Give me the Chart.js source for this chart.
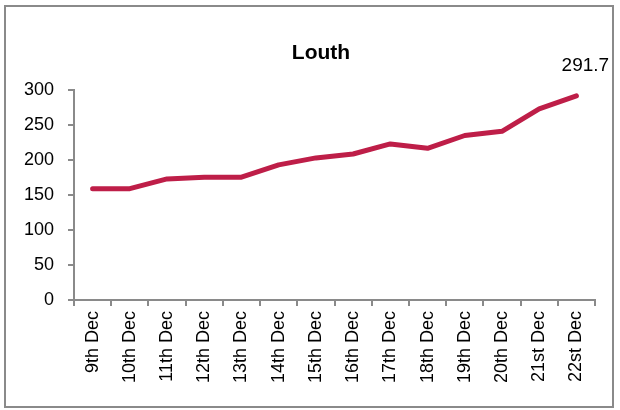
<!DOCTYPE html>
<html>
<head>
<meta charset="utf-8">
<script src="https://cdn.jsdelivr.net/npm/chart.js@4"></script>
<style>
html,body{margin:0;padding:0;background:#fff;}
#wrap{width:620px;height:410px;position:relative;}
</style>
</head>
<body>
<div id="wrap"><canvas id="c" width="620" height="410"></canvas></div>
<script>
const categories = ["9th Dec","10th Dec","11th Dec","12th Dec","13th Dec","14th Dec","15th Dec","16th Dec","17th Dec","18th Dec","19th Dec","20th Dec","21st Dec","22st Dec"];
const louthValues = [159, 159, 173, 175.5, 175.5, 193, 203, 208.6, 223, 216.7, 235, 241, 273, 291.7];
const yTicks = [0, 50, 100, 150, 200, 250, 300];
const chartTitle = "Louth";
const lastLabel = "291.7";

const FONT = "'Liberation Sans', Arial, sans-serif";

const frame = {
  id: 'frame',
  beforeDraw(chart) {
    const ctx = chart.ctx;
    ctx.save();
    ctx.fillStyle = '#fff';
    ctx.fillRect(0, 0, chart.width, chart.height);
    ctx.strokeStyle = '#8a8a8a';
    ctx.lineWidth = 2;
    ctx.strokeRect(5, 6, 608, 401);
    ctx.fillStyle = '#000';
    ctx.font = 'bold 21px ' + FONT;
    ctx.textAlign = 'center';
    ctx.textBaseline = 'alphabetic';
    ctx.fillText(chartTitle, 321, 59);
    ctx.restore();
  },
  afterDatasetsDraw(chart) {
    const meta = chart.getDatasetMeta(0);
    const pt = meta.data[meta.data.length - 1];
    const ctx = chart.ctx;
    ctx.save();
    ctx.fillStyle = '#000';
    ctx.font = '19px ' + FONT;
    ctx.textAlign = 'center';
    ctx.textBaseline = 'alphabetic';
    ctx.fillText(lastLabel, pt.x + 9, pt.y - 25);
    ctx.restore();
  }
};

new Chart(document.getElementById('c'), {
  type: 'line',
  data: {
    labels: categories,
    datasets: [{
      data: louthValues,
      borderColor: '#BE1E48',
      borderWidth: 5,
      borderCapStyle: 'round',
      borderJoinStyle: 'round',
      pointRadius: 0,
      tension: 0,
      fill: false,
      clip: false
    }]
  },
  options: {
    responsive: false,
    animation: false,
    devicePixelRatio: 1,
    layout: { padding: { top: 90, right: 25, left: 0, bottom: 0 } },
    plugins: { legend: { display: false }, title: { display: false }, tooltip: { enabled: false } },
    scales: {
      x: {
        type: 'category',
        offset: true,
        grid: { offset: true, drawOnChartArea: false, drawTicks: true, tickLength: 6, color: '#8a8a8a', lineWidth: 2 },
        border: { display: true, color: '#8a8a8a', width: 2 },
        ticks: { color: '#000', font: { family: FONT, size: 18 }, minRotation: 90, maxRotation: 90, padding: 5, autoSkip: false },
        afterFit(s) { s.height = 110; }
      },
      y: {
        min: 0, max: 300,
        afterBuildTicks(s) { s.ticks = yTicks.map(v => ({ value: v })); },
        grid: { drawOnChartArea: false, drawTicks: true, tickLength: 6, color: '#8a8a8a', lineWidth: 2 },
        border: { display: true, color: '#8a8a8a', width: 2 },
        ticks: { color: '#000', font: { family: FONT, size: 18 }, padding: 14 },
        afterFit(s) { s.width = 74; }
      }
    }
  },
  plugins: [frame]
});
</script>
</body>
</html>
